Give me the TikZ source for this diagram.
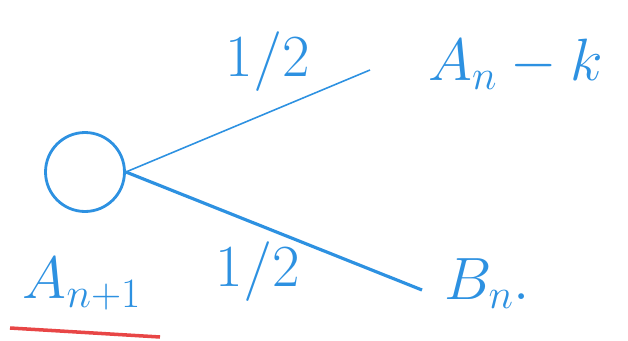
\RequirePackage{fix-cm}
\documentclass[tikz,border=0pt]{standalone}
\usepackage{amsmath, amssymb}
\usepackage{tikz}
\usepackage{xcolor}
\definecolor{penblue}{RGB}{45,145,225}
\definecolor{penred}{RGB}{232,70,70}

\begin{document}
\begin{tikzpicture}[x=0.02cm, y=-0.02cm,
    lab/.style={text=penblue, font=\fontsize{34}{40}\selectfont}]
  \useasboundingbox (0,0) rectangle (628,341);
  % Root of the tree
  \node[circle, draw=penblue, line width=1.6pt, minimum size=1.58cm, inner sep=0pt] (root) at (85,172) {};
  \coordinate (upEnd) at (370,70);
  \coordinate (downEnd) at (422,290);
  % Branches
  \draw[penblue, line width=0.9pt] (root.east) -- (upEnd);
  \draw[penblue, line width=1.8pt] (root.east) -- (downEnd);
  \node[lab] (pUp) at (268,62) {$1/2$};
  \node[lab] (pDown) at (258,272) {$1/2$};
  \node[lab, anchor=west] (upLab) at (422,64) {$A_n - k$};
  \node[lab, anchor=west] (downLab) at (438,284) {$B_n.$};
  % Name of the root
  \node[lab] (rootLab) at (82,284) {$A_{n+1}$};
  \draw[penred, line width=2pt] (10,328) -- (160,337);
\end{tikzpicture}
\end{document}
